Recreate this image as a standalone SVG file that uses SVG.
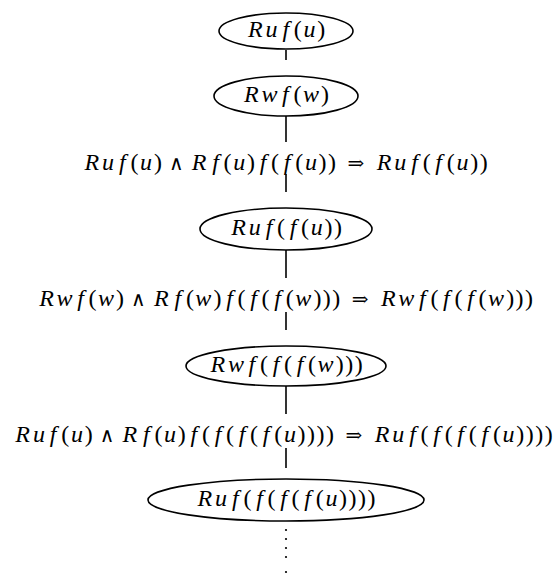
<svg xmlns="http://www.w3.org/2000/svg" width="555" height="575" viewBox="0 0 555 575">
<rect width="555" height="575" fill="#fff"/>
<g id="connectors" stroke="#000" stroke-width="1.6" fill="none">
<line x1="286" y1="50" x2="286" y2="60"/>
<line x1="286" y1="116" x2="286" y2="142"/>
<line x1="286" y1="174" x2="286" y2="192"/>
<line x1="286" y1="250" x2="286" y2="278"/>
<line x1="286" y1="312" x2="286" y2="330"/>
<line x1="286" y1="386" x2="286" y2="414"/>
<line x1="286" y1="448" x2="286" y2="468"/>
<g fill="#000" stroke="none"><circle cx="286" cy="530" r="1.1"/><circle cx="286" cy="539" r="1.1"/><circle cx="286" cy="548" r="1.1"/><circle cx="286" cy="557" r="1.1"/><circle cx="286" cy="572" r="1.1"/></g>
</g>
<g id="n1"><ellipse cx="286" cy="31" rx="67" ry="18" fill="none" stroke="#000" stroke-width="1.6"/><text font-family="Liberation Serif" font-style="italic" font-size="24" text-anchor="middle" y="37" x="255.3 271.5 285.8 297.8 309.5 321.3">Ruf<tspan font-style="normal">(</tspan>u<tspan font-style="normal">)</tspan></text></g>
<g id="n2"><ellipse cx="286" cy="96" rx="72" ry="20" fill="none" stroke="#000" stroke-width="1.6"/><text font-family="Liberation Serif" font-style="italic" font-size="24" text-anchor="middle" y="102" x="251.4 269.4 285.4 297.5 311.0 325.1">Rwf<tspan font-style="normal">(</tspan>w<tspan font-style="normal">)</tspan></text></g>
<g id="l1"><text font-family="Liberation Serif" font-style="italic" font-size="24" text-anchor="middle" y="170" x="91.9 108.1 122.4 134.4 146.1 157.9 176.2 199.0 215.5 227.6 239.3 251.0 263.1 275.1 287.1 299.2 310.9 322.6 332.1 355.9 384.1 400.3 414.6 426.7 438.7 450.7 462.5 474.2 483.7">Ruf<tspan font-style="normal">(</tspan>u<tspan font-style="normal">)</tspan><tspan font-style="normal" font-family="DejaVu Serif" font-size="20">∧</tspan>Rf<tspan font-style="normal">(</tspan>u<tspan font-style="normal">)</tspan>f<tspan font-style="normal">(</tspan>f<tspan font-style="normal">(</tspan>u<tspan font-style="normal">))</tspan><tspan font-style="normal" font-family="DejaVu Serif" font-size="20">⇒</tspan>Ruf<tspan font-style="normal">(</tspan>f<tspan font-style="normal">(</tspan>u<tspan font-style="normal">))</tspan></text></g>
<g id="n3"><ellipse cx="286" cy="229" rx="86" ry="21" fill="none" stroke="#000" stroke-width="1.6"/><text font-family="Liberation Serif" font-style="italic" font-size="24" text-anchor="middle" y="235" x="238.5 254.7 269.0 281.0 293.1 305.1 316.8 328.5 338.0">Ruf<tspan font-style="normal">(</tspan>f<tspan font-style="normal">(</tspan>u<tspan font-style="normal">))</tspan></text></g>
<g id="l2"><text font-family="Liberation Serif" font-style="italic" font-size="24" text-anchor="middle" y="306" x="46.5 64.5 80.5 92.5 106.0 120.1 138.4 161.3 177.8 189.9 203.3 217.5 229.5 241.6 253.6 265.6 277.7 289.7 303.2 317.4 326.8 336.3 360.1 388.3 406.3 422.3 434.4 446.4 458.5 470.5 482.5 496.0 510.2 519.6 529.1">Rwf<tspan font-style="normal">(</tspan>w<tspan font-style="normal">)</tspan><tspan font-style="normal" font-family="DejaVu Serif" font-size="20">∧</tspan>Rf<tspan font-style="normal">(</tspan>w<tspan font-style="normal">)</tspan>f<tspan font-style="normal">(</tspan>f<tspan font-style="normal">(</tspan>f<tspan font-style="normal">(</tspan>w<tspan font-style="normal">)))</tspan><tspan font-style="normal" font-family="DejaVu Serif" font-size="20">⇒</tspan>Rwf<tspan font-style="normal">(</tspan>f<tspan font-style="normal">(</tspan>f<tspan font-style="normal">(</tspan>w<tspan font-style="normal">)))</tspan></text></g>
<g id="n4"><ellipse cx="286" cy="366" rx="100" ry="20" fill="none" stroke="#000" stroke-width="1.6"/><text font-family="Liberation Serif" font-style="italic" font-size="24" text-anchor="middle" y="372" x="217.9 235.9 251.9 263.9 276.0 288.0 300.1 312.1 325.6 339.7 349.2 358.7">Rwf<tspan font-style="normal">(</tspan>f<tspan font-style="normal">(</tspan>f<tspan font-style="normal">(</tspan>w<tspan font-style="normal">)))</tspan></text></g>
<g id="l3"><text font-family="Liberation Serif" font-style="italic" font-size="24" text-anchor="middle" y="442" x="22.7 38.9 53.2 65.2 76.9 88.7 107.0 129.8 146.3 158.4 170.1 181.8 193.9 205.9 218.0 230.0 242.0 254.1 266.1 278.2 289.9 301.6 311.1 320.6 330.1 353.8 382.1 398.3 412.6 424.6 436.6 448.7 460.7 472.8 484.8 496.9 508.6 520.3 529.8 539.3 548.8">Ruf<tspan font-style="normal">(</tspan>u<tspan font-style="normal">)</tspan><tspan font-style="normal" font-family="DejaVu Serif" font-size="20">∧</tspan>Rf<tspan font-style="normal">(</tspan>u<tspan font-style="normal">)</tspan>f<tspan font-style="normal">(</tspan>f<tspan font-style="normal">(</tspan>f<tspan font-style="normal">(</tspan>f<tspan font-style="normal">(</tspan>u<tspan font-style="normal">))))</tspan><tspan font-style="normal" font-family="DejaVu Serif" font-size="20">⇒</tspan>Ruf<tspan font-style="normal">(</tspan>f<tspan font-style="normal">(</tspan>f<tspan font-style="normal">(</tspan>f<tspan font-style="normal">(</tspan>u<tspan font-style="normal">))))</tspan></text></g>
<g id="n5"><ellipse cx="286" cy="500" rx="138" ry="21" fill="none" stroke="#000" stroke-width="1.6"/><text font-family="Liberation Serif" font-style="italic" font-size="24" text-anchor="middle" y="506" x="204.9 221.1 235.4 247.4 259.5 271.5 283.5 295.6 307.6 319.7 331.4 343.1 352.6 362.1 371.6">Ruf<tspan font-style="normal">(</tspan>f<tspan font-style="normal">(</tspan>f<tspan font-style="normal">(</tspan>f<tspan font-style="normal">(</tspan>u<tspan font-style="normal">))))</tspan></text></g>
</svg>
